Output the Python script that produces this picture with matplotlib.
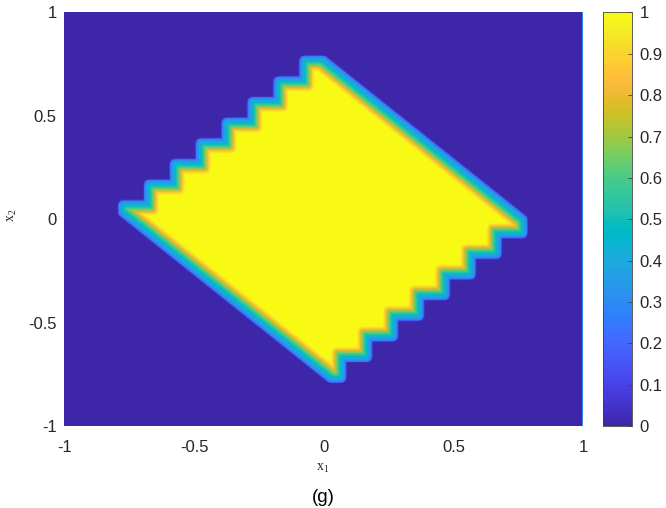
import matplotlib
matplotlib.use('Agg')
import matplotlib.pyplot as plt
import numpy as np
from matplotlib.colors import LinearSegmentedColormap
from matplotlib.path import Path

# staircase edge (upper left): riser x positions and tread heights
tl_riser_x = [-0.765, -0.665, -0.565, -0.465, -0.365, -0.265, -0.165, -0.065]
tl_tread_y = [0.055, 0.155, 0.255, 0.355, 0.455, 0.555, 0.655, 0.755]
# staircase edge (lower right)
br_riser_x = [0.059, 0.159, 0.259, 0.359, 0.459, 0.559, 0.659, 0.759]
br_tread_y = [-0.757, -0.657, -0.557, -0.457, -0.357, -0.257, -0.157, -0.057]
# straight edges: x1 + x2 = const
diag_upper = 0.745
diag_lower = -0.72
edge_value = 0.3   # faint band along x1 = 1

x_ticks = [-1, -0.5, 0, 0.5, 1]
y_ticks = [-1, -0.5, 0, 0.5, 1]
cb_ticks = [0, 0.1, 0.2, 0.3, 0.4, 0.5, 0.6, 0.7, 0.8, 0.9, 1]

# parula (64)
parula_rgb = [
    [0.2422, 0.1504, 0.6603], [0.2504, 0.1650, 0.7076], [0.2578, 0.1818, 0.7511], [0.2647, 0.1978, 0.7952],
    [0.2706, 0.2147, 0.8364], [0.2751, 0.2342, 0.8710], [0.2783, 0.2559, 0.8991], [0.2803, 0.2782, 0.9221],
    [0.2813, 0.3006, 0.9414], [0.2810, 0.3228, 0.9579], [0.2795, 0.3447, 0.9717], [0.2760, 0.3667, 0.9829],
    [0.2699, 0.3892, 0.9906], [0.2602, 0.4123, 0.9952], [0.2440, 0.4358, 0.9988], [0.2206, 0.4603, 0.9973],
    [0.1963, 0.4847, 0.9892], [0.1834, 0.5074, 0.9798], [0.1786, 0.5289, 0.9682], [0.1764, 0.5499, 0.9520],
    [0.1687, 0.5703, 0.9359], [0.1540, 0.5902, 0.9218], [0.1460, 0.6091, 0.9079], [0.1380, 0.6276, 0.8973],
    [0.1248, 0.6459, 0.8883], [0.1113, 0.6635, 0.8763], [0.0952, 0.6798, 0.8598], [0.0689, 0.6948, 0.8394],
    [0.0297, 0.7082, 0.8163], [0.0036, 0.7203, 0.7917], [0.0067, 0.7312, 0.7660], [0.0433, 0.7411, 0.7394],
    [0.0964, 0.7500, 0.7120], [0.1408, 0.7584, 0.6842], [0.1717, 0.7670, 0.6554], [0.1938, 0.7758, 0.6251],
    [0.2161, 0.7843, 0.5923], [0.2470, 0.7918, 0.5567], [0.2906, 0.7973, 0.5188], [0.3406, 0.8008, 0.4789],
    [0.3909, 0.8029, 0.4354], [0.4456, 0.8024, 0.3909], [0.5044, 0.7993, 0.3480], [0.5616, 0.7942, 0.3045],
    [0.6174, 0.7876, 0.2612], [0.6720, 0.7793, 0.2227], [0.7242, 0.7698, 0.1910], [0.7738, 0.7598, 0.1646],
    [0.8203, 0.7498, 0.1535], [0.8634, 0.7406, 0.1596], [0.9035, 0.7330, 0.1774], [0.9393, 0.7288, 0.2100],
    [0.9728, 0.7298, 0.2394], [0.9956, 0.7434, 0.2371], [0.9970, 0.7659, 0.2199], [0.9952, 0.7893, 0.2028],
    [0.9892, 0.8136, 0.1885], [0.9786, 0.8386, 0.1766], [0.9676, 0.8639, 0.1643], [0.9610, 0.8890, 0.1537],
    [0.9597, 0.9135, 0.1423], [0.9628, 0.9373, 0.1265], [0.9691, 0.9606, 0.1064], [0.9769, 0.9839, 0.0805]]
parula = LinearSegmentedColormap.from_list('parula', parula_rgb, N=256)

# build polygon (clockwise from left corner)
verts = [(tl_riser_x[0], diag_lower - tl_riser_x[0])]
for k in range(len(tl_riser_x)):
    verts.append((tl_riser_x[k], tl_tread_y[k]))
    if k < len(tl_riser_x) - 1:
        verts.append((tl_riser_x[k + 1], tl_tread_y[k]))
    else:
        verts.append((diag_upper - tl_tread_y[k], tl_tread_y[k]))
verts.append((br_riser_x[-1], diag_upper - br_riser_x[-1]))
for k in range(len(br_riser_x) - 1, -1, -1):
    verts.append((br_riser_x[k], br_tread_y[k]))
    if k > 0:
        verts.append((br_riser_x[k - 1], br_tread_y[k]))
    else:
        verts.append((diag_lower - br_tread_y[k], br_tread_y[k]))
verts = np.array(verts)

# signed distance in screen pixels -> smooth value
sx, sy = 259.4, 206.75
nx, ny = 520, 415
gx = np.linspace(-1, 1, nx)
gy = np.linspace(-1, 1, ny)
X, Y = np.meshgrid(gx, gy)
P = np.column_stack([X.ravel() * sx, Y.ravel() * sy])
V = verts * [sx, sy]
dmin = np.full(P.shape[0], np.inf)
for i in range(len(V)):
    a = V[i]
    b = V[(i + 1) % len(V)]
    ab = b - a
    t = np.clip(((P - a) @ ab) / (ab @ ab), 0, 1)
    diff = np.abs(P - (a + t[:, None] * ab))
    dist = (diff[:, 0] ** 3 + diff[:, 1] ** 3) ** (1 / 3)
    dmin = np.minimum(dmin, dist)
inside = Path(verts).contains_points(np.column_stack([X.ravel(), Y.ravel()]))
d = np.where(inside, -dmin, dmin).reshape(X.shape)
Z = np.interp(d, [-8, -6, -3.5, 0, 4, 6.8, 8], [1.0, 0.9, 0.74, 0.55, 0.38, 0.26, 0.0])
Z[:, -1] = edge_value

plt.rcParams['font.family'] = 'Liberation Sans'
fig = plt.figure(figsize=(6.66, 5.08), dpi=100)
ax = fig.add_axes([0.0968, 0.1614, 0.7790, 0.8140])
im = ax.imshow(Z, origin='lower', extent=[-1, 1, -1, 1], aspect='auto',
               cmap=parula, vmin=0, vmax=1, interpolation='bilinear')
ax.set_xlim(-1, 1)
ax.set_ylim(-1, 1)
ax.set_xticks(x_ticks)
ax.set_yticks(y_ticks)
ax.set_xticklabels([f'{v:g}' for v in x_ticks])
ax.set_yticklabels([f'{v:g}' for v in y_ticks])
ax.tick_params(axis='x', length=0, pad=10, labelsize=12, labelcolor='#262626')
ax.tick_params(axis='y', length=0, pad=5.5, labelsize=12, labelcolor='#262626')
for s in ax.spines.values():
    s.set_visible(False)

cax = fig.add_axes([0.9059, 0.1614, 0.0426, 0.8140])
cb = fig.colorbar(im, cax=cax, ticks=cb_ticks)
cb.ax.set_yticklabels([f'{v:g}' for v in cb_ticks])
cb.ax.tick_params(direction='in', length=3, width=0.6, color='#404040', pad=5.5,
                  labelsize=12, labelcolor='#262626')
cb.outline.set_linewidth(0.6)
cb.outline.set_edgecolor('#404040')

fig.text(323 / 666, 1 - 468 / 508, r'$\mathregular{x_1}$', family='Liberation Serif',
         fontsize=10, ha='center', va='center', color='#262626')
fig.text(12 / 666, 1 - 215 / 508, r'$\mathregular{x_2}$', family='Liberation Serif',
         fontsize=10, ha='center', va='center', rotation=90, color='#262626')
fig.text(323 / 666, 1 - 497 / 508, '(g)', fontsize=13.5, ha='center', va='center', color='black')

fig.savefig('out.png', dpi=100)
